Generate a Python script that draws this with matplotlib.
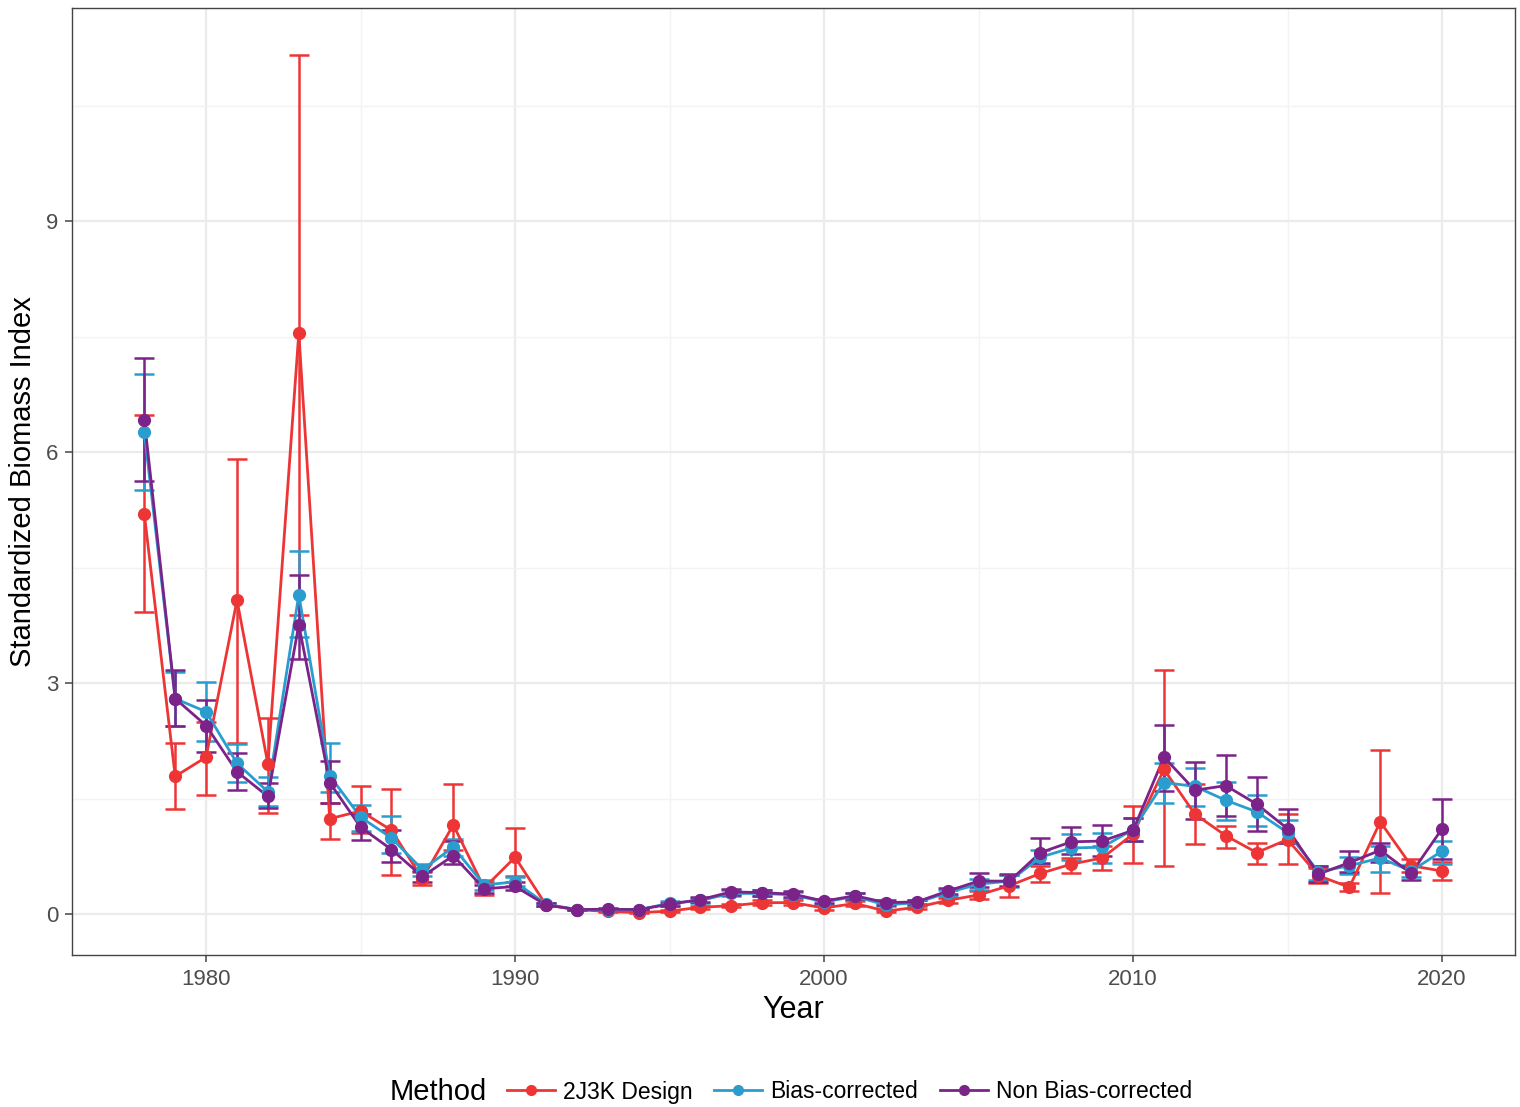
import matplotlib
matplotlib.use('Agg')
import matplotlib.pyplot as plt
from matplotlib.lines import Line2D
import numpy as np

plt.rcParams['font.family'] = ['Liberation Sans', 'DejaVu Sans']

years = np.arange(1978, 2021)

# 2J3K Design
red_val = [5.20, 1.79, 2.04, 4.08, 1.95, 7.55, 1.24, 1.34, 1.09, 0.46, 1.16, 0.34, 0.74, 0.12,
           0.06, 0.035, 0.02, 0.04, 0.09, 0.11, 0.15, 0.15, 0.08, 0.14, 0.04, 0.09, 0.18,
           0.25, 0.37, 0.53, 0.65, 0.73, 1.04, 1.88, 1.30, 1.02, 0.80, 0.97, 0.50, 0.35, 1.20, 0.63, 0.56]
red_lo = [3.92, 1.37, 1.55, 2.23, 1.32, 3.89, 0.98, 1.06, 0.51, 0.38, 0.84, 0.25, 0.49, 0.10,
          0.05, 0.03, 0.015, 0.03, 0.07, 0.09, 0.12, 0.12, 0.06, 0.11, 0.03, 0.07, 0.15,
          0.20, 0.22, 0.42, 0.54, 0.57, 0.67, 0.63, 0.91, 0.86, 0.65, 0.65, 0.40, 0.30, 0.28, 0.55, 0.44]
red_hi = [6.48, 2.22, 2.50, 5.91, 2.55, 11.16, 1.45, 1.67, 1.63, 0.55, 1.69, 0.42, 1.12, 0.14,
          0.07, 0.04, 0.025, 0.05, 0.11, 0.13, 0.18, 0.18, 0.10, 0.17, 0.05, 0.11, 0.21,
          0.30, 0.51, 0.62, 0.73, 0.89, 1.41, 3.17, 1.69, 1.15, 0.92, 1.30, 0.60, 0.40, 2.13, 0.72, 0.68]

# Bias-corrected
blue_val = [6.26, 2.80, 2.63, 1.96, 1.59, 4.15, 1.80, 1.26, 0.99, 0.58, 0.87, 0.38, 0.42, 0.13,
            0.06, 0.06, 0.06, 0.14, 0.18, 0.27, 0.27, 0.25, 0.16, 0.23, 0.12, 0.15, 0.28,
            0.39, 0.43, 0.74, 0.86, 0.87, 1.10, 1.71, 1.66, 1.48, 1.33, 1.06, 0.55, 0.63, 0.73, 0.56, 0.82]
blue_lo = [5.51, 2.45, 2.25, 1.72, 1.40, 3.60, 1.59, 1.08, 0.80, 0.50, 0.75, 0.32, 0.36, 0.11,
           0.05, 0.05, 0.05, 0.11, 0.15, 0.23, 0.23, 0.21, 0.13, 0.19, 0.10, 0.12, 0.24,
           0.32, 0.35, 0.65, 0.71, 0.67, 0.95, 1.44, 1.40, 1.22, 1.15, 0.92, 0.45, 0.52, 0.55, 0.48, 0.65]
blue_hi = [7.02, 3.15, 3.01, 2.21, 1.78, 4.72, 2.23, 1.42, 1.27, 0.65, 0.98, 0.44, 0.48, 0.15,
           0.07, 0.07, 0.07, 0.17, 0.21, 0.31, 0.31, 0.29, 0.19, 0.27, 0.14, 0.18, 0.32,
           0.46, 0.51, 0.83, 1.04, 1.06, 1.25, 1.97, 1.90, 1.72, 1.55, 1.22, 0.62, 0.74, 0.88, 0.64, 0.95]

# Non Bias-corrected
purple_val = [6.42, 2.80, 2.45, 1.85, 1.53, 3.76, 1.71, 1.13, 0.84, 0.49, 0.76, 0.33, 0.36, 0.12,
              0.06, 0.065, 0.06, 0.13, 0.19, 0.29, 0.28, 0.26, 0.17, 0.24, 0.15, 0.16, 0.30,
              0.43, 0.43, 0.80, 0.94, 0.95, 1.09, 2.04, 1.61, 1.67, 1.43, 1.11, 0.52, 0.67, 0.83, 0.53, 1.11]
purple_lo = [5.63, 2.44, 2.11, 1.61, 1.38, 3.31, 1.45, 0.97, 0.68, 0.42, 0.65, 0.28, 0.31, 0.10,
             0.05, 0.055, 0.05, 0.11, 0.16, 0.25, 0.24, 0.22, 0.14, 0.20, 0.12, 0.13, 0.26,
             0.35, 0.36, 0.66, 0.78, 0.76, 0.95, 1.60, 1.23, 1.28, 1.08, 0.92, 0.42, 0.55, 0.68, 0.44, 0.72]
purple_hi = [7.23, 3.17, 2.78, 2.10, 1.70, 4.41, 1.99, 1.30, 1.10, 0.56, 0.95, 0.38, 0.42, 0.14,
             0.07, 0.075, 0.07, 0.15, 0.22, 0.33, 0.32, 0.30, 0.20, 0.28, 0.18, 0.19, 0.34,
             0.54, 0.52, 0.99, 1.13, 1.16, 1.25, 2.46, 1.98, 2.07, 1.78, 1.36, 0.62, 0.82, 0.93, 0.62, 1.50]

labels = ['2J3K Design', 'Bias-corrected', 'Non Bias-corrected']
colors = ['#EE3535', '#2A9DCF', '#7B2389']
series = [(red_val, red_lo, red_hi), (blue_val, blue_lo, blue_hi), (purple_val, purple_lo, purple_hi)]

fig = plt.figure(figsize=(15.2, 11.07), dpi=100)
ax = fig.add_axes([72/1520, 1 - 955/1107, (1515-72)/1520, (955-8)/1107])

# error bars, then lines, then points (ggplot layer order)
for (v, lo, hi), c in zip(series, colors):
    v = np.array(v); lo = np.array(lo); hi = np.array(hi)
    ax.errorbar(years, v, yerr=[v - lo, hi - v], fmt='none', ecolor=c, elinewidth=1.8,
                capsize=7, capthick=1.8, zorder=3)
for (v, lo, hi), c in zip(series, colors):
    ax.plot(years, v, color=c, lw=2.0, zorder=4)
for (v, lo, hi), c in zip(series, colors):
    ax.plot(years, v, 'o', color=c, ms=8.5, zorder=5)

ax.set_xticks([1980, 1990, 2000, 2010, 2020])
ax.set_yticks([0, 3, 6, 9])
ax.set_xticks([1985, 1995, 2005, 2015], minor=True)
ax.set_yticks([1.5, 4.5, 7.5, 10.5], minor=True)
ax.set_xlim(1975.66, 2022.36)
ax.set_ylim(-0.53, 11.77)
ax.grid(which='major', color='#EBEBEB', lw=1.6, zorder=0)
ax.grid(which='minor', color='#F3F3F3', lw=1.0, zorder=0)
ax.set_axisbelow(True)
ax.tick_params(which='major', length=5, width=1.1, color='#444444', labelsize=16,
               labelcolor='#4D4D4D', pad=5)
ax.tick_params(which='minor', length=0)
for s in ax.spines.values():
    s.set_color('#444444')
    s.set_linewidth(1.0)

ax.set_xlabel('Year', fontsize=22, labelpad=4)
ax.set_ylabel('Standardized Biomass Index', fontsize=21, labelpad=6)

handles = [Line2D([0], [0], color=c, lw=2.0, marker='o', ms=7) for c in colors]
fig.text(390/1520, 1 - 1092/1107, 'Method', fontsize=21, va='center', ha='left')
fig.legend(handles, labels, loc='center left', bbox_to_anchor=(486/1520, 1 - 1092/1107),
           ncol=3, frameon=False, fontsize=16.5, handlelength=2.1, columnspacing=0.95,
           handletextpad=0.35)

fig.savefig('out.png', dpi=100)
